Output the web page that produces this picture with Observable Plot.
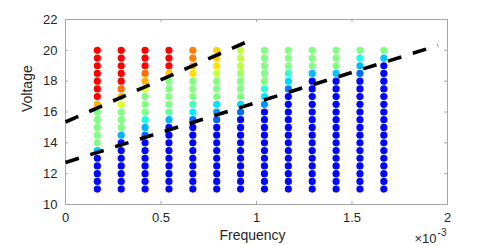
<!DOCTYPE html>
<html>
<head>
<meta charset="utf-8">
<script src="https://cdn.jsdelivr.net/npm/d3@7"></script>
<script src="https://cdn.jsdelivr.net/npm/@observablehq/plot@0.6"></script>
<style>
  html, body { margin: 0; padding: 0; background: #fff; }
  #chart { width: 494px; height: 245px; }
</style>
</head>
<body>
<div id="chart"></div>
<script>
// Frequency columns (axis units ×10^-3)
const frequencies = [0.1667, 0.2917, 0.4167, 0.5417, 0.6667, 0.7917, 0.9167, 1.0417, 1.1667, 1.2917, 1.4167, 1.5417, 1.6667];
// Voltage rows, top to bottom
const voltages = [20, 19.5, 19, 18.5, 18, 17.5, 17, 16.5, 16, 15.5, 15, 14.5, 14, 13.5, 13, 12.5, 12, 11.5, 11];
// Colour level (jet colormap, 0..1) for each column, rows listed top (20 V) to bottom (11 V)
const colorLevels = [
  [0.875,0.875,0.875,0.875,0.875,0.875,0.875,0.70,0.5,0.5,0.5,0.5,0.5,0.32,0.13,0.13,0.13,0.13,0.13],
  [0.875,0.875,0.875,0.875,0.875,0.765,0.70,0.59,0.5,0.5,0.5,0.30,0.13,0.13,0.13,0.13,0.13,0.13,0.13],
  [0.875,0.875,0.875,0.765,0.70,0.60,0.5,0.5,0.5,0.40,0.30,0.235,0.13,0.13,0.13,0.13,0.13,0.13,0.13],
  [0.875,0.875,0.875,0.68,0.5,0.5,0.5,0.5,0.47,0.30,0.13,0.13,0.13,0.13,0.13,0.13,0.13,0.13,0.13],
  [0.75,0.75,0.70,0.655,0.5,0.5,0.5,0.44,0.36,0.24,0.13,0.13,0.13,0.13,0.13,0.13,0.13,0.13,0.13],
  [0.67,0.67,0.655,0.57,0.5,0.5,0.5,0.35,0.28,0.22,0.13,0.13,0.13,0.13,0.13,0.13,0.13,0.13,0.13],
  [0.56,0.56,0.56,0.53,0.5,0.5,0.5,0.34,0.23,0.13,0.13,0.13,0.13,0.13,0.13,0.13,0.13,0.13,0.13],
  [0.5,0.5,0.5,0.5,0.5,0.41,0.35,0.27,0.13,0.13,0.13,0.13,0.13,0.13,0.13,0.13,0.13,0.13,0.13],
  [0.5,0.5,0.5,0.42,0.34,0.25,0.13,0.13,0.13,0.13,0.13,0.13,0.13,0.13,0.13,0.13,0.13,0.13,0.13],
  [0.5,0.5,0.5,0.31,0.13,0.13,0.13,0.13,0.13,0.13,0.13,0.13,0.13,0.13,0.13,0.13,0.13,0.13,0.13],
  [0.5,0.5,0.5,0.32,0.13,0.13,0.13,0.13,0.13,0.13,0.13,0.13,0.13,0.13,0.13,0.13,0.13,0.13,0.13],
  [0.5,0.40,0.31,0.23,0.13,0.13,0.13,0.13,0.13,0.13,0.13,0.13,0.13,0.13,0.13,0.13,0.13,0.13,0.13],
  [0.5,0.32,0.13,0.13,0.13,0.13,0.13,0.13,0.13,0.13,0.13,0.13,0.13,0.13,0.13,0.13,0.13,0.13,0.13]
];
// Dashed boundary lines (endpoints)
const upperLineX = [0, 0.94];
const upperLineY = [15.35, 20.5];
const lowerLineX = [0, 1.95];
const lowerLineY = [12.73, 20.32];
// Axis ticks
const xTicks = [0, 0.5, 1, 1.5, 2];
const yTicks = [10, 12, 14, 16, 18, 20, 22];
const xLabel = "Frequency";
const yLabel = "Voltage";
const xExponentBase = "×10";
const xExponent = "-3";

const points = [];
frequencies.forEach((f, i) => voltages.forEach((v, j) => points.push({f, v, level: colorLevels[i][j]})));
const upperLine = upperLineX.map((x, i) => ({x, y: upperLineY[i]}));
const lowerLine = lowerLineX.map((x, i) => ({x, y: lowerLineY[i]}));

function jet(t) {
  const c = x => Math.max(0, Math.min(1, x));
  return d3.rgb(255 * c(1.5 - Math.abs(4 * t - 3)), 255 * c(1.5 - Math.abs(4 * t - 2)), 255 * c(1.5 - Math.abs(4 * t - 1))).formatHex();
}

const W = 494, H = 245, ML = 65, MR = 47, MT = 19, MB = 41;
const innerW = W - ML - MR, innerH = H - MT - MB;
const axisGray = "#a6a6a6";
const textColor = "#262626";
const tickLen = 3;

const chart = Plot.plot({
  width: W,
  height: H,
  marginLeft: ML,
  marginRight: MR,
  marginTop: MT,
  marginBottom: MB,
  style: {fontFamily: "'Liberation Sans', Arial, Helvetica, sans-serif", fontSize: "13px", color: textColor, background: "#fff"},
  x: {domain: [0, 2], ticks: xTicks},
  y: {domain: [10, 22], ticks: yTicks},
  color: {type: "linear", domain: [0, 1], interpolate: jet},
  marks: [
    Plot.frame({stroke: axisGray, strokeWidth: 1}),
    Plot.ruleX(xTicks.slice(1, -1), {x: d => d, stroke: axisGray, insetTop: innerH - tickLen}),
    Plot.ruleX(xTicks.slice(1, -1), {x: d => d, stroke: axisGray, insetBottom: innerH - tickLen}),
    Plot.ruleY(yTicks.slice(1, -1), {y: d => d, stroke: axisGray, insetRight: innerW - tickLen}),
    Plot.ruleY(yTicks.slice(1, -1), {y: d => d, stroke: axisGray, insetLeft: innerW - tickLen}),
    Plot.axisX(xTicks, {tickSize: 0, tickPadding: 8, label: null, fontSize: 13, fill: textColor, tickFormat: d => String(d)}),
    Plot.axisY(yTicks, {tickSize: 0, tickPadding: 8, label: null, fontSize: 13, fill: textColor}),
    Plot.dot(points, {x: "f", y: "v", fill: "level", r: 3.6, stroke: null}),
    Plot.line(upperLine, {x: "x", y: "y", stroke: "#000", strokeWidth: 3.6, strokeDasharray: "14,12", strokeLinecap: "butt"}),
    Plot.line(lowerLine, {x: "x", y: "y", stroke: "#000", strokeWidth: 3.6, strokeDasharray: "14,12", strokeLinecap: "butt"}),
    Plot.text([yLabel], {frameAnchor: "left", dx: -38, rotate: -90, fontSize: 14, fill: textColor}),
    Plot.text([xLabel], {frameAnchor: "bottom", dx: -4, dy: 35, fontSize: 14, fill: textColor}),
    Plot.text([xExponentBase], {frameAnchor: "bottom-right", dx: -11, dy: 38, fontSize: 13, fill: textColor}),
    Plot.text([xExponent], {frameAnchor: "bottom-right", dx: -1, dy: 31, fontSize: 10, fill: textColor})
  ]
});
document.getElementById("chart").appendChild(chart);
</script>
</body>
</html>
